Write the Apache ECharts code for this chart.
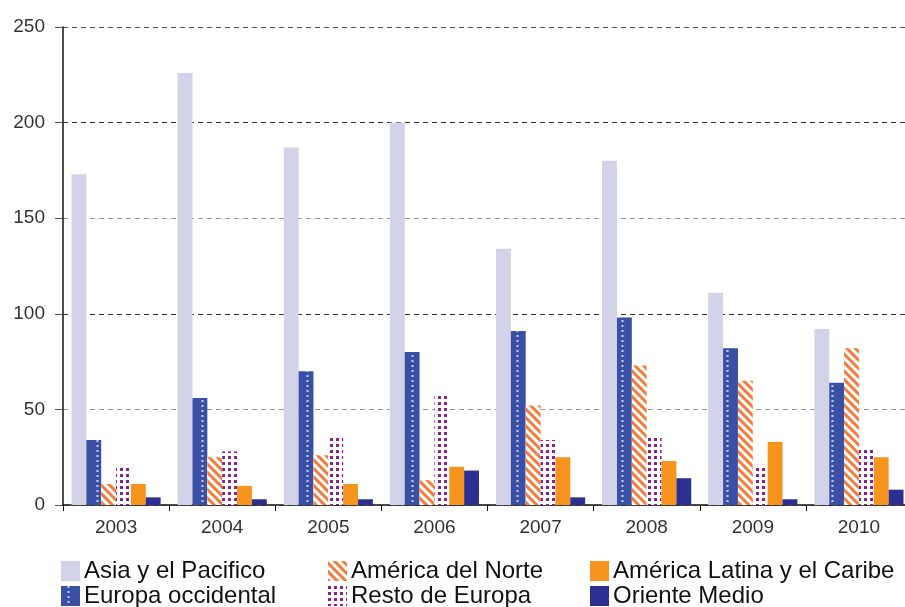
<!DOCTYPE html>
<html>
<head>
<meta charset="utf-8">
<script src="https://cdn.jsdelivr.net/npm/echarts@6/dist/echarts.min.js"></script>
<style>
  html, body { margin: 0; padding: 0; background: #fff; }
  #chart { width: 905px; height: 607px; }
</style>
</head>
<body>
<div id="chart"></div>
<script>
// datos
var years = ['2003', '2004', '2005', '2006', '2007', '2008', '2009', '2010'];
var asia = [173, 226, 187, 200, 134, 180, 111, 92];
var europaOcc = [34, 56, 70, 80, 91, 98, 82, 64];
var americaNorte = [11, 25, 26, 13, 52, 73, 65, 82];
var restoEuropa = [21, 28, 35, 57, 34, 35, 21, 30];
var americaLatina = [11, 10, 11, 20, 25, 23, 33, 25];
var orienteMedio = [4, 3, 3, 18, 4, 14, 3, 8];

var chart = echarts.init(document.getElementById('chart'));

var decalEuropa = { symbol: 'rect', color: '#ffffff', symbolSize: 0.7, dashArrayX: [[0, 6, 3, 6]], dashArrayY: [2, 3], rotation: 0 };
var decalNorte = { symbol: 'rect', color: '#f47b3a', symbolSize: 1, dashArrayX: [1, 0], dashArrayY: [3, 3], rotation: Math.PI / 4 };
var decalResto = { symbol: 'rect', color: '#8b1f8b', symbolSize: 1, dashArrayX: [3, 3], dashArrayY: [3, 3], rotation: 0 };

function legendItem(name, left, top) {
  return {
    data: [name], left: left, top: top, icon: 'rect', itemWidth: 19, itemHeight: 20, itemGap: 7, padding: 0,
    textStyle: { fontSize: 24, color: '#111', fontFamily: 'Liberation Sans', padding: [0, 0, 0, -1] },
    selectedMode: false
  };
}

var option = {
  animation: false,
  legend: [
    legendItem('Asia y el Pacifico', 61, 559),
    legendItem('América del Norte', 328, 559),
    legendItem('América Latina y el Caribe', 590, 559),
    legendItem('Europa occidental', 61, 584),
    legendItem('Resto de Europa', 328, 584),
    legendItem('Oriente Medio', 590, 584)
  ],
  grid: { left: 63, width: 849, top: 27, bottom: 102, containLabel: false, outerBoundsMode: 'none' },
  xAxis: {
    type: 'category',
    data: years,
    axisLine: { lineStyle: { color: '#111', width: 1.5 } },
    axisTick: { show: true, length: 6, lineStyle: { color: '#111' } },
    axisLabel: { fontSize: 19, color: '#333', margin: 13, fontFamily: 'Liberation Sans' }
  },
  yAxis: {
    type: 'value',
    min: 0, max: 250, interval: 50,
    axisLine: { show: true, lineStyle: { color: '#111', width: 1.5 } },
    axisTick: { show: true, length: 8, lineStyle: { color: '#555' } },
    axisLabel: { fontSize: 19, color: '#333', margin: 18, fontFamily: 'Liberation Sans' },
    splitLine: {
      show: true,
      lineStyle: { type: [5, 4], width: 1, color: ['#999', '#9a9a9a', '#333', '#9a9a9a', '#333', '#555'] }
    }
  },
  series: [
    { name: 'Asia y el Pacifico', type: 'bar', data: asia, itemStyle: { color: '#d2d2e8' }, barGap: '0%', barCategoryGap: '16%' },
    { name: 'Europa occidental', type: 'bar', data: europaOcc, itemStyle: { color: '#3a50a6', decal: decalEuropa } },
    { name: 'América del Norte', type: 'bar', data: americaNorte, itemStyle: { color: '#ffffff', decal: decalNorte } },
    { name: 'Resto de Europa', type: 'bar', data: restoEuropa, itemStyle: { color: '#ffffff', decal: decalResto } },
    { name: 'América Latina y el Caribe', type: 'bar', data: americaLatina, itemStyle: { color: '#f7941d' } },
    { name: 'Oriente Medio', type: 'bar', data: orienteMedio, itemStyle: { color: '#2b2f8f' } }
  ]
};

chart.setOption(option);
</script>
</body>
</html>
